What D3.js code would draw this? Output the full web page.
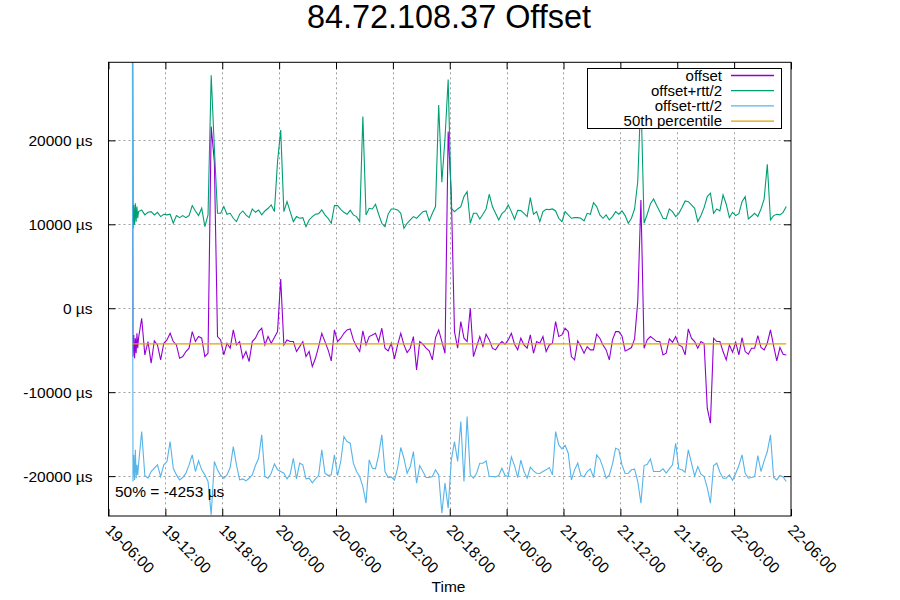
<!DOCTYPE html>
<html>
<head>
<meta charset="utf-8">
<script src="https://cdn.jsdelivr.net/npm/d3@7"></script>
<style>
  html, body { margin: 0; padding: 0; background: #fff; }
  svg { display: block; font-family: "Liberation Sans", Arial, sans-serif; }
</style>
</head>
<body>
<div id="chart"></div>
<script>
// ---------- data ----------
const title = "84.72.108.37 Offset";
const seriesNames = ["offset", "offset+rtt/2", "offset-rtt/2", "50th percentile"];
const xTickLabels = ["19-06:00","19-12:00","19-18:00","20-00:00","20-06:00","20-12:00","20-18:00",
                     "21-00:00","21-06:00","21-12:00","21-18:00","22-00:00","22-06:00"];
const yTickValues = [-20000, -10000, 0, 10000, 20000];
const median = -4253;

// first samples taken every 5 minutes starting 19-08:30
const burstStart = "2024-01-19T08:30:00Z";
const burstStepMin = 5;
const burstOffset = [60000, -5760, -3180, -5960, -3570, -5360, -2980, -4760];
const burstPlus   = [75000, 9530, 12310, 9930, 12510, 10320, 12110, 10720];
const burstMinus  = [45000, -20640, -17470, -20450, -16870, -20250, -18660, -19850];

// regular samples every 20 minutes starting 19-09:10
const mainStart = "2024-01-19T09:10:00Z";
const mainStepMin = 20;
const offsetVals = [
 -3570,-1190,-5560,-3970,-6550,-3890,-4370,-6150,-4170,-3770,-2980,-3970,-4370,-5960,-5760,-5160,-4760,-2780,
 -3970,-3370,-3570,-5760,-5360,21640,17470,-3370,-3770,-5560,-4170,-4760,-2580,-4370,-3970,-5960,-5160,-6350,
 -3970,-3570,-2780,-2380,-4370,-3370,-4170,-3490,-2780,3490,-4370,-3770,-3970,-3970,-5160,-4570,-3970,-5760,
 -5160,-6950,-5960,-4570,-2980,-3970,-4960,-6270,-2580,-3970,-3570,-2980,-2580,-2460,-3770,-4570,-5160,-2700,
 -4370,-3370,-3180,-2980,-3970,-2380,-4760,-5080,-4170,-6030,-4370,-2980,-4370,-5280,-4760,-3370,-7340,-3970,
 -4290,-4760,-5080,-6150,-3490,-2580,-3970,-5360,21040,13500,-2780,-4760,-1590,-3570,-3970,0,-5760,-4570,
 -3370,-4570,-3100,-3770,-4760,-4960,-4370,-3970,-4290,-3770,-2980,-4290,-4960,-3570,-4370,-4760,-3180,-5360,
 -3970,-4170,-3370,-5160,-4370,-4170,-1590,-3370,-3180,-2380,-2780,-5760,-6150,-3890,-4570,-5360,-4570,-4960,
 -4960,-3100,-3570,-4370,-4960,-6150,-3770,-2780,-2780,-3290,-5080,-4920,-4680,-3650,790,12900,-4760,-3770,
 -3370,-3650,-3970,-3970,-5560,-5360,-3650,-4050,-3370,-4370,-4570,-5560,-2460,-3570,-3970,-4760,-3970,-4210,
 -11910,-13700,-3570,-3970,-3970,-5160,-6150,-4370,-5240,-4050,-5560,-3490,-5160,-5480,-4760,-4760,-3260,-4680,
 -4960,-4170,-2580,-4490,-6270,-4680,-5480,-5560];
const plusVals = [
 11510,11710,11120,11430,11510,11120,11430,10920,11200,11120,11200,10120,11040,10800,11040,10800,11040,12230,
 11590,11040,11910,9730,11110,27760,19100,11310,11310,12110,11200,11310,10720,10320,11200,11590,11120,10800,
 11830,11430,11710,11120,11590,11910,12310,11510,17470,21240,11510,12700,11510,10320,10920,10720,10800,9730,
 10520,10920,11200,11270,11710,11120,10720,10120,12230,12230,11790,11430,11200,11670,11120,10920,10320,22830,
 11120,11910,11830,12390,11200,10120,9730,11200,11830,11830,11710,11310,9530,10120,10520,10920,10720,11120,
 11510,11590,10400,11310,12110,24220,15000,20260,27250,11910,11510,11830,12110,13300,13900,10120,11310,11310,
 10640,11200,11830,13580,12110,11310,10520,11270,11590,12310,11510,10600,11670,11630,11310,10920,13180,11200,
 11510,10320,11510,11790,11750,11830,11590,10720,10320,11510,11120,10720,10800,10800,10720,10400,11310,11200,
 12580,12110,11120,10720,11120,10520,10920,11510,11200,11590,11040,10120,10720,11830,15090,25410,10120,11200,
 12430,13020,12230,11510,10720,10640,11830,11510,10920,11310,11990,12780,12700,12310,11910,10320,11040,11990,
 13300,13700,11310,11830,11590,13500,12390,10800,11430,11040,11270,12700,13300,10640,10960,11310,10920,11830,
 13000,17150,10520,11040,11200,11120,11430,12110];
const minusVals = [
 -18660,-14690,-19930,-20250,-19450,-19060,-18660,-20050,-18660,-18260,-15880,-19060,-19850,-20450,-20170,-19650,-18660,-17470,
 -19450,-18180,-19250,-19850,-20640,-24610,-18260,-19250,-19930,-20250,-19850,-18980,-16480,-18660,-20450,-20330,-20560,-20250,
 -19850,-18740,-17870,-15090,-20050,-20250,-19650,-18540,-19250,-19450,-19650,-20330,-19770,-17870,-20330,-18460,-18660,-20330,
 -20250,-20800,-20330,-19930,-16870,-19650,-19930,-19850,-17470,-19930,-18260,-15280,-15880,-16080,-18460,-19450,-20050,-21240,
 -23220,-18060,-19060,-19140,-17470,-15090,-19450,-20170,-20090,-20490,-19060,-16590,-17870,-19650,-18860,-17070,-20840,-18740,
 -19450,-20170,-20170,-20050,-19250,-19850,-24410,-20840,-23820,-18060,-15880,-18260,-13500,-20640,-12900,-19850,-20250,-19650,
 -18460,-18460,-18180,-20050,-20050,-20090,-19930,-19060,-19930,-20050,-17710,-18740,-20170,-18100,-19450,-20250,-18940,-19370,
 -19650,-19690,-19450,-19250,-18980,-19850,-14690,-16280,-16750,-16320,-17270,-20450,-19250,-18460,-19930,-20090,-19450,-19140,
 -20170,-17470,-17950,-18980,-20250,-19850,-18580,-16670,-16830,-18660,-19690,-19650,-19250,-19170,-20640,-23220,-18740,-18580,
 -17950,-19450,-19450,-19450,-19140,-19650,-19140,-18660,-16080,-19140,-19250,-19530,-16870,-18460,-20010,-18860,-19770,-20050,
 -21360,-23220,-18740,-18460,-19530,-20250,-20250,-19850,-20490,-19690,-18740,-17470,-19650,-20250,-20170,-20050,-17550,-19450,
 -18180,-17070,-15090,-20170,-20450,-19930,-20090,-20640];

const colors = ["#9400d3", "#009e73", "#56b4e9", "#e69f00"];

// ---------- build records ----------
function buildSeries(burst, main) {
  const t0 = new Date(burstStart).getTime();
  const t1 = new Date(mainStart).getTime();
  const pts = burst.map((v, i) => ({ t: new Date(t0 + i * burstStepMin * 60000), v }));
  return pts.concat(main.map((v, i) => ({ t: new Date(t1 + i * mainStepMin * 60000), v })));
}
const dataSets = [
  buildSeries(burstOffset, offsetVals),
  buildSeries(burstPlus, plusVals),
  buildSeries(burstMinus, minusVals)
];
const allTimes = dataSets[0].map(d => d.t);

// ---------- layout ----------
const W = 900, H = 600;
const m = { left: 108.5, right: 791, top: 62.3, bottom: 516 };

const svg = d3.select("#chart").append("svg").attr("width", W).attr("height", H);

const x = d3.scaleUtc()
  .domain([new Date("2024-01-19T06:00:00Z"), new Date("2024-01-22T06:00:00Z")])
  .range([m.left, m.right]);
const y = d3.scaleLinear().domain([-24750, 29300]).range([m.bottom, m.top]);

const xTicks = x.ticks(d3.utcHour.every(6));
const fmt = d3.utcFormat("%d-%H:%M");

// grid
const grid = svg.append("g").attr("stroke", "#a0a0a0").attr("stroke-width", 1)
  .attr("stroke-dasharray", "2,3").attr("fill", "none");
xTicks.slice(1, -1).forEach(t => {
  grid.append("line").attr("x1", Math.round(x(t)) + 0.5).attr("x2", Math.round(x(t)) + 0.5)
    .attr("y1", m.top).attr("y2", m.bottom);
});
yTickValues.forEach(v => {
  grid.append("line").attr("x1", m.left).attr("x2", m.right)
    .attr("y1", Math.round(y(v)) + 0.5).attr("y2", Math.round(y(v)) + 0.5);
});

// clip
svg.append("clipPath").attr("id", "clip").append("rect")
  .attr("x", m.left).attr("y", m.top).attr("width", m.right - m.left).attr("height", m.bottom - m.top);

const line = d3.line().x(d => x(d.t)).y(d => y(d.v));
const plotG = svg.append("g").attr("clip-path", "url(#clip)");
dataSets.forEach((ds, k) => {
  plotG.append("path").datum(ds).attr("d", line)
    .attr("fill", "none").attr("stroke", colors[k]).attr("stroke-width", 1.1)
    .attr("stroke-linejoin", "miter");
});
// median line over data span
plotG.append("line")
  .attr("x1", x(allTimes[0])).attr("x2", x(allTimes[allTimes.length - 1]))
  .attr("y1", y(median)).attr("y2", y(median))
  .attr("stroke", colors[3]).attr("stroke-width", 1.3);

// axes (via d3 axis generators, styled gnuplot-like)
const yAxisL = d3.axisLeft(y).tickValues(yTickValues).tickSize(-7).tickPadding(16)
  .tickFormat(d => d + " \u00b5s");
const gy = svg.append("g").attr("transform", `translate(${m.left},0)`).call(yAxisL);
gy.select(".domain").remove();
gy.selectAll("text").attr("font-size", 15.5).attr("fill", "#000")
  .attr("font-family", "Liberation Sans, Arial, sans-serif").attr("dx", 0);
gy.selectAll("line").attr("stroke", "#000");

const yAxisR = d3.axisRight(y).tickValues(yTickValues).tickSize(-7).tickFormat("");
const gyr = svg.append("g").attr("transform", `translate(${m.right},0)`).call(yAxisR);
gyr.select(".domain").remove();
gyr.selectAll("line").attr("stroke", "#000");

const xAxisB = d3.axisBottom(x).tickValues(xTicks).tickSize(-7).tickFormat("");
const gx = svg.append("g").attr("transform", `translate(0,${m.bottom})`).call(xAxisB);
gx.select(".domain").remove();
gx.selectAll("line").attr("stroke", "#000");
const xAxisT = d3.axisTop(x).tickValues(xTicks).tickSize(-7).tickFormat("");
const gxt = svg.append("g").attr("transform", `translate(0,${m.top})`).call(xAxisT);
gxt.select(".domain").remove();
gxt.selectAll("line").attr("stroke", "#000");

// rotated x labels
xTicks.forEach((t, i) => {
  svg.append("text")
    .attr("transform", `translate(${x(t) - 4},${531}) rotate(45)`)
    .attr("font-size", 15.5).attr("text-anchor", "start")
    .text(xTickLabels[i] || fmt(t));
});

// border
svg.append("rect").attr("x", m.left).attr("y", m.top)
  .attr("width", m.right - m.left).attr("height", m.bottom - m.top)
  .attr("fill", "none").attr("stroke", "#000").attr("stroke-width", 1);

// title and labels
svg.append("text").attr("x", 449).attr("y", 28).attr("text-anchor", "middle")
  .attr("font-size", 32.4).text(title);
svg.append("text").attr("x", 448.5).attr("y", 592).attr("text-anchor", "middle")
  .attr("font-size", 15.5).text("Time");
svg.append("text").attr("x", 115).attr("y", 497).attr("font-size", 15.5)
  .text(`50% = ${median} \u00b5s`);

// legend
const lg = svg.append("g");
lg.append("rect").attr("x", 587.5).attr("y", 68.5).attr("width", 194).attr("height", 60)
  .attr("fill", "#fff").attr("stroke", "#000").attr("stroke-width", 1);
seriesNames.forEach((name, k) => {
  const yy = 75.5 + k * 15.2;
  lg.append("text").attr("x", 722).attr("y", yy + 5).attr("text-anchor", "end")
    .attr("font-size", 15).text(name);
  lg.append("line").attr("x1", 731).attr("x2", 774).attr("y1", yy).attr("y2", yy)
    .attr("stroke", colors[k]).attr("stroke-width", 1.3);
});
</script>
</body>
</html>
